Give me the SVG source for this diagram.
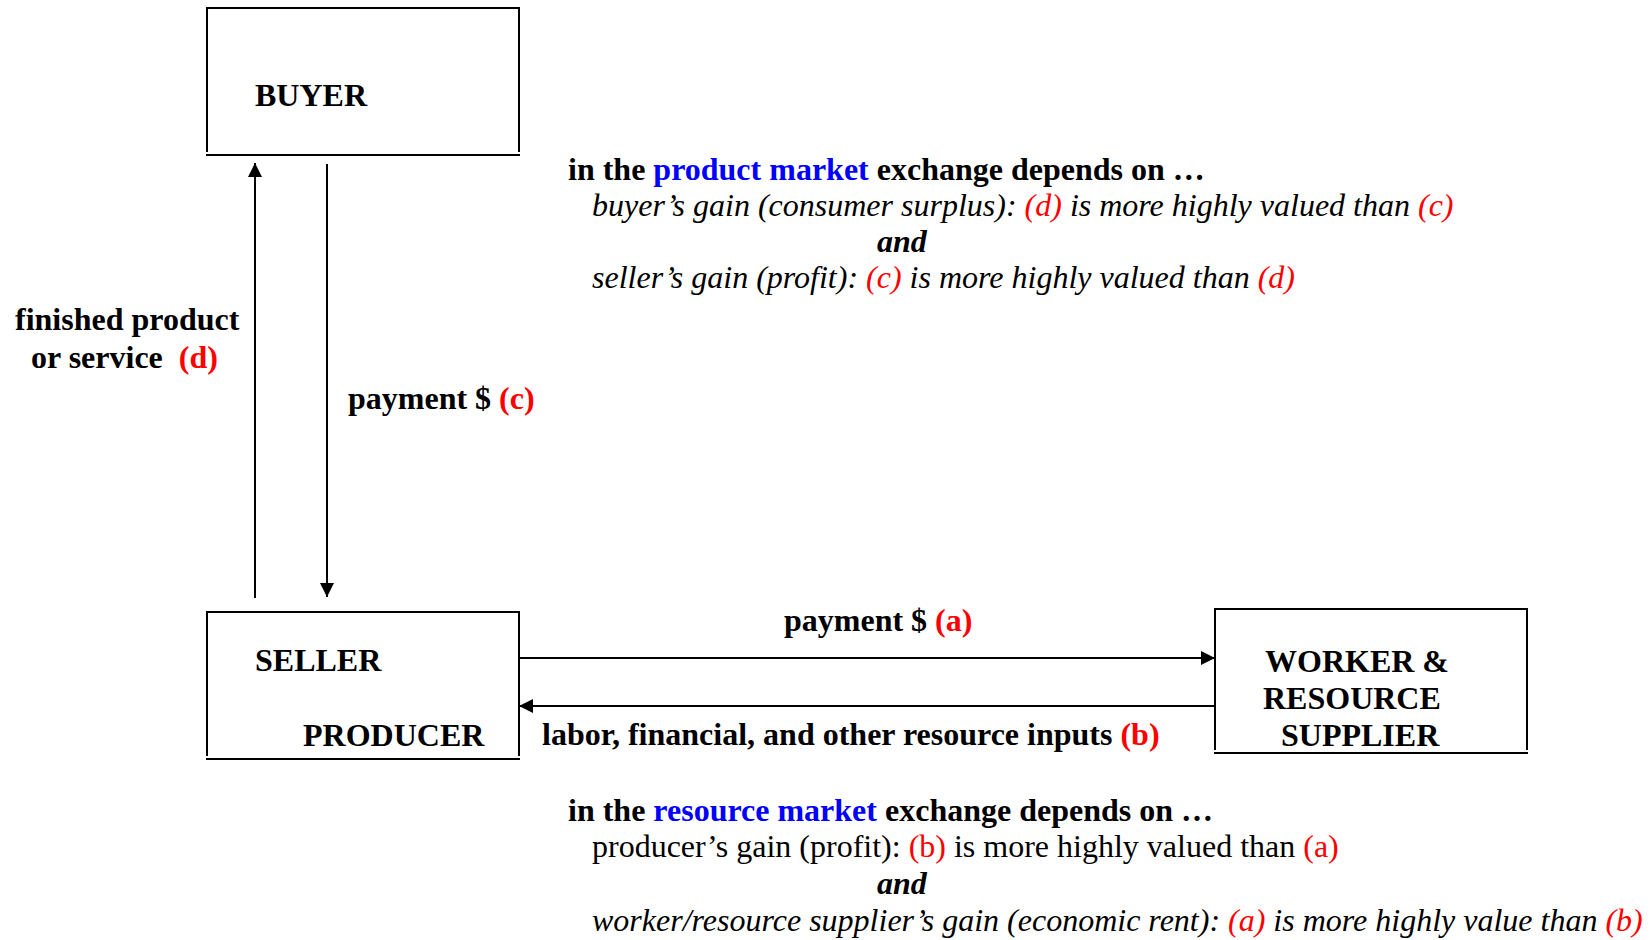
<svg xmlns="http://www.w3.org/2000/svg" width="1650" height="940" viewBox="0 0 1650 940">
<style>
.t{font-family:"Liberation Serif","Times New Roman",serif;font-size:32px;fill:#000}
.b{font-weight:bold}
.i{font-style:italic}
.r{fill:#ff0000}
.bl{fill:#0000ff}
.box{fill:none;stroke:#000;stroke-width:2}
.con{fill:none;stroke:#000;stroke-width:2}
</style>
<defs>
<marker id="ah" markerUnits="userSpaceOnUse" markerWidth="16" markerHeight="16" refX="14" refY="7" orient="auto">
<path d="M0,0 L14,7 L0,14 Z" fill="#000"/>
</marker>
</defs>
<rect width="1650" height="940" fill="#fff"/>

<g id="buyer">
<path class="box" d="M207,152 V8 H519 V152"/>
<line class="box" x1="206" y1="155" x2="520" y2="155"/>
<text class="t b" x="255" y="106">BUYER</text>
</g>

<g id="seller">
<path class="box" d="M207,756 V612 H519 V756"/>
<line class="box" x1="206" y1="759" x2="520" y2="759"/>
<text class="t b" x="255" y="671">SELLER</text>
<text class="t b" x="303" y="746">PRODUCER</text>
</g>

<g id="worker">
<path class="box" d="M1215,750 V609 H1527 V750"/>
<line class="box" x1="1214" y1="753" x2="1528" y2="753"/>
<text class="t b" x="1265" y="672">WORKER &amp;</text>
<text class="t b" x="1263" y="709">RESOURCE</text>
<text class="t b" x="1281" y="746">SUPPLIER</text>
</g>

<g id="connectors">
<line class="con" x1="255" y1="598" x2="255" y2="163" marker-end="url(#ah)"/>
<line class="con" x1="327" y1="164" x2="327" y2="597" marker-end="url(#ah)"/>
<line class="con" x1="519" y1="658" x2="1215" y2="658" marker-end="url(#ah)"/>
<line class="con" x1="1215" y1="706" x2="519" y2="706" marker-end="url(#ah)"/>
</g>

<g id="labels">
<text class="t b" x="15" y="330">finished product</text>
<text class="t b" x="31" y="368">or service <tspan class="r" dx="8">(d)</tspan></text>
<text class="t b" x="348" y="409">payment $ <tspan class="r">(c)</tspan></text>
<text class="t b" x="784" y="631">payment $ <tspan class="r">(a)</tspan></text>
<text class="t b" x="542" y="745">labor, financial, and other resource inputs <tspan class="r">(b)</tspan></text>
</g>

<g id="product-market">
<text class="t b" x="568" y="180">in the <tspan class="bl">product market</tspan> exchange depends on …</text>
<text class="t i" x="592" y="216">buyer’s gain (consumer surplus): <tspan class="r">(d)</tspan> is more highly valued than <tspan class="r">(c)</tspan></text>
<text class="t b i" x="877" y="252">and</text>
<text class="t i" x="592" y="288">seller’s gain (profit): <tspan class="r">(c)</tspan> is more highly valued than <tspan class="r">(d)</tspan></text>
</g>

<g id="resource-market">
<text class="t b" x="568" y="821">in the <tspan class="bl">resource market</tspan> exchange depends on …</text>
<text class="t" x="592" y="857">producer’s gain (profit): <tspan class="r">(b)</tspan> is more highly valued than <tspan class="r">(a)</tspan></text>
<text class="t b i" x="877" y="894">and</text>
<text class="t i" x="592" y="931">worker/resource supplier’s gain (economic rent): <tspan class="r">(a)</tspan> is more highly value than <tspan class="r">(b)</tspan></text>
</g>
</svg>
